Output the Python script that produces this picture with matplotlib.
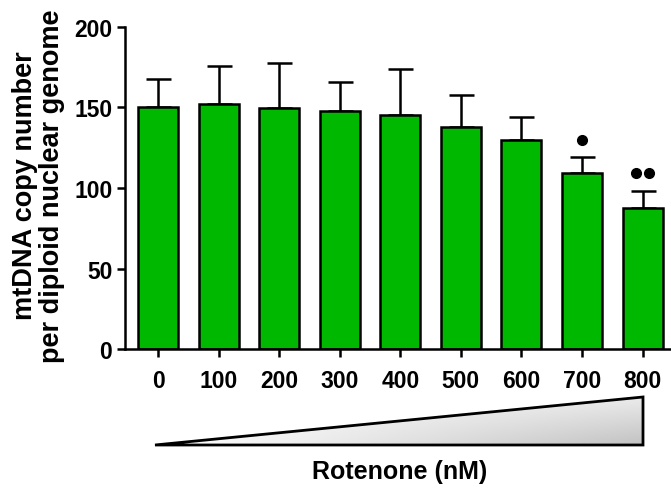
import numpy as np
import matplotlib
matplotlib.use("Agg")
import matplotlib.pyplot as plt
from matplotlib.patches import Polygon

plt.rcParams["font.family"] = ["Liberation Sans", "DejaVu Sans"]
plt.rcParams["font.weight"] = "bold"

doses = ["0", "100", "200", "300", "400", "500", "600", "700", "800"]
means = [150, 152, 149.5, 148, 145.5, 138, 129.5, 109.5, 87.5]
sems = [17.5, 23.5, 28, 17.5, 28.5, 19.5, 14.5, 10, 10.5]
# significance dots: (bar index, y value, number of dots)
marks = [(7, 130, 1), (8, 109, 2)]

fig = plt.figure(figsize=(6.71, 4.89), dpi=100)
ax = fig.add_axes([0.186, 0.284, 0.814, 0.659])

x = np.arange(len(doses))
ax.bar(x, means, width=0.66, color="#00b800", edgecolor="black", linewidth=1.8, zorder=2)
ax.errorbar(x, means, yerr=[np.zeros(len(sems)), sems], fmt="none", ecolor="black",
            elinewidth=1.8, capsize=9, capthick=1.8, zorder=1)

for i, yv, n in marks:
    offs = [0] if n == 1 else [-0.11, 0.11]
    ax.plot([i + o for o in offs], [yv] * n, "o", color="black", markersize=7)

ax.set_xlim(-0.55, 8.47)
ax.set_ylim(0, 200)
ax.set_yticks([0, 50, 100, 150, 200])
ax.set_xticks(x)
ax.set_xticklabels(doses)
ax.spines["top"].set_visible(False)
ax.spines["right"].set_visible(False)
for s in ["left", "bottom"]:
    ax.spines[s].set_linewidth(1.8)
ax.tick_params(axis="both", width=1.8, length=6, labelsize=16.5)
ax.tick_params(axis="x", pad=8)
ax.tick_params(axis="y", pad=3)
for lab in ax.get_xticklabels() + ax.get_yticklabels():
    lab.set_fontweight("bold")

fig.text(39 / 671, 1 - 186 / 489, "mtDNA copy number\nper diploid nuclear genome",
         rotation=90, ha="center", va="center", fontsize=19.5, fontweight="bold",
         linespacing=1.05)

# gradient triangle below the axis (lighter at top, darker toward bottom right)
tax = fig.add_axes([0, 0, 1, 1], zorder=-1)
tax.set_xlim(0, 671)
tax.set_ylim(489, 0)
tax.axis("off")
tri = [(155, 446), (643, 398), (643, 446)]
hh = np.linspace(0, 1, 256)[None, :]
vv = np.linspace(0, 1, 64)[:, None]
grad = 1 - hh * (0.08 + 0.16 * vv)
im = tax.imshow(grad, cmap="gray", vmin=0, vmax=1, extent=(155, 643, 446, 398),
                aspect="auto")
poly = Polygon(tri, closed=True, facecolor="none", edgecolor="black", linewidth=2)
tax.add_patch(poly)
im.set_clip_path(poly)
tax.text(400, 472, "Rotenone (nM)", ha="center", va="center", fontsize=18,
         fontweight="bold")

fig.savefig("out.png", dpi=100)
